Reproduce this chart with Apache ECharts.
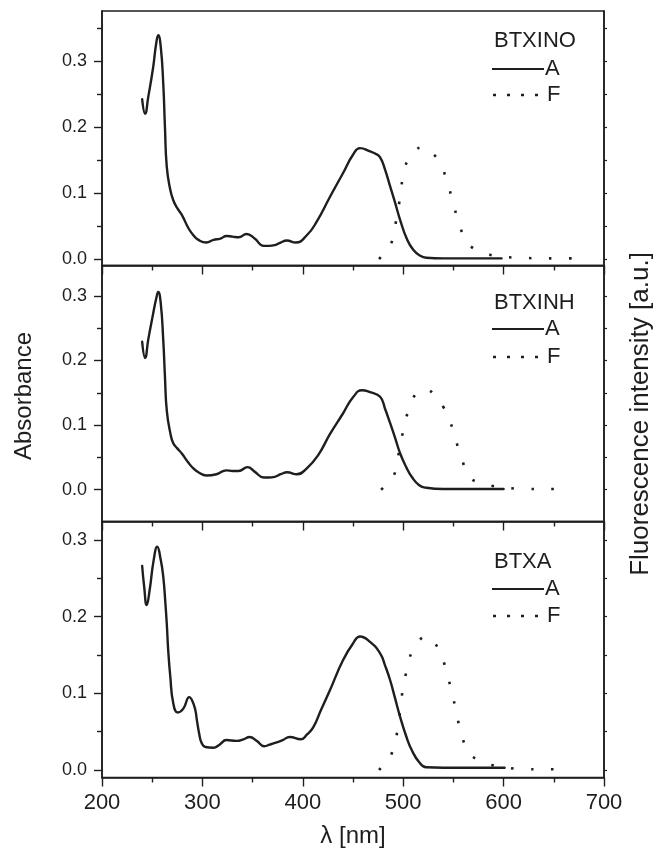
<!DOCTYPE html>
<html>
<head>
<meta charset="utf-8">
<script src="https://cdn.jsdelivr.net/npm/echarts@6/dist/echarts.min.js"></script>
<style>
html,body{margin:0;padding:0;background:#fff;}
#chart{width:659px;height:859px;}
</style>
</head>
<body>
<div id="chart"></div>
<script>
// ---- data ([wavelength nm, value]) ----
const panelNames = ['BTXINO', 'BTXINH', 'BTXA'];
const xTicks = [200, 300, 400, 500, 600, 700];
const yMajorTicks = [0, 0.1, 0.2, 0.3];
const yMinorTicks = [0.05, 0.15, 0.25, 0.35];

const absBTXINO = [[240,0.242],[243,0.220],[246,0.245],[251,0.291],[254,0.327],[256,0.339],[258.5,0.322],[261,0.266],[262.7,0.20],[264.5,0.14],[268,0.105],[271,0.089],[275,0.077],[279.5,0.067],[286,0.047],[291,0.036],[296,0.029],[304,0.025],[311,0.029],[318,0.031],[324,0.035],[330,0.034],[336,0.033],[344,0.038],[352,0.031],[361,0.020],[366,0.020],[372,0.021],[378,0.025],[384,0.028],[393,0.025],[404,0.036],[414,0.057],[427,0.094],[440,0.130],[450,0.158],[457,0.168],[467,0.163],[472,0.160],[477,0.154],[482,0.135],[487,0.110],[492,0.085],[497,0.059],[503.5,0.031],[510,0.014],[517,0.005],[523,0.002],[540,0.001],[560,0.001],[580,0.001],[598,0.001]];
const fluBTXINO = [[476,0.0],[478.6,0.0045],[485,0.016],[490,0.033],[493.5,0.064],[497,0.094],[499.5,0.122],[505,0.152],[512,0.165],[520,0.169],[528,0.162],[536,0.146],[544,0.117],[549,0.088],[555,0.058],[562,0.029],[570,0.016],[579,0.010],[598,0.0035],[618,0.002],[637,0.001],[656,0.001],[676,0.001]];

const absBTXINH = [[240,0.229],[243,0.204],[246,0.232],[251,0.273],[254,0.296],[256,0.306],[258.5,0.289],[261,0.232],[262.7,0.175],[264.5,0.123],[268,0.088],[271,0.072],[275,0.064],[279.5,0.056],[286,0.042],[291,0.033],[296,0.027],[304,0.022],[314,0.024],[324,0.030],[330,0.029],[336,0.029],[345,0.035],[352,0.028],[361,0.019],[366,0.019],[372,0.020],[378,0.024],[384.5,0.027],[394,0.024],[404,0.033],[415.5,0.054],[427,0.086],[440,0.118],[450,0.143],[459,0.154],[467,0.151],[477,0.144],[482,0.125],[487,0.103],[492,0.080],[497,0.056],[503,0.035],[508.5,0.020],[516,0.007],[523,0.003],[540,0.001],[560,0.001],[580,0.001],[600,0.001]];
const fluBTXINH = [[478,0.0],[480,0.003],[487,0.014],[493,0.032],[496,0.061],[500,0.091],[505,0.121],[515,0.152],[522,0.155],[533,0.143],[540,0.128],[545,0.113],[551.5,0.082],[557.5,0.051],[566.5,0.020],[575,0.011],[585,0.007],[605,0.0026],[625,0.001],[644,0.001],[663,0.001]];

const absBTXA = [[240,0.266],[242,0.239],[244.5,0.215],[247.5,0.235],[251.5,0.274],[255,0.291],[258.5,0.274],[261,0.252],[263,0.22],[264.5,0.191],[266,0.155],[268,0.122],[271,0.087],[275.5,0.075],[281,0.080],[287,0.095],[290,0.090],[293,0.078],[294.5,0.065],[297,0.046],[299,0.036],[303,0.030],[311,0.029],[317,0.033],[324,0.039],[334,0.038],[341,0.040],[347,0.043],[354,0.038],[361.5,0.031],[367,0.033],[374,0.036],[380,0.039],[387,0.043],[398,0.040],[404,0.046],[410.5,0.056],[418,0.078],[427,0.104],[440,0.143],[450,0.165],[457,0.174],[467,0.167],[477,0.152],[482,0.136],[487,0.117],[492,0.093],[497,0.069],[503,0.044],[508.5,0.026],[516,0.010],[523,0.0035],[540,0.003],[560,0.003],[580,0.003],[601,0.003]];
const fluBTXA = [[476,0.0],[478.6,0.004],[485,0.012],[490,0.028],[494.5,0.053],[497,0.078],[499.5,0.104],[503.5,0.130],[508.5,0.154],[515,0.168],[524,0.174],[531,0.166],[537.5,0.151],[543.5,0.126],[548.5,0.101],[553,0.075],[557.5,0.049],[565,0.024],[574,0.013],[583.5,0.008],[603.5,0.003],[624,0.001],[643,0.001],[664,0.001]];

const absData = [absBTXINO, absBTXINH, absBTXA];
const fluData = [fluBTXINO, fluBTXINH, fluBTXA];

// ---- layout ----
const INK = '#1e1e1e';
const FONT = 'Liberation Sans';
const panels = [
  {top: 11,    height: 254.5, min: -0.0098, max: 0.3758},
  {top: 265.5, height: 256,   min: -0.0492, max: 0.3471},
  {top: 521.5, height: 256,   min: -0.0098, max: 0.324}
];
const legendY = [[40.5, 69, 95], [303, 329, 357], [562, 589, 616]];

const grid = [], xAxis = [], yAxis = [], series = [], graphic = [];
panels.forEach((p, i) => {
  grid.push({left: 102, top: p.top, width: 502, height: p.height,
    show: true, borderColor: INK, borderWidth: 1.5, backgroundColor: 'transparent'});
  xAxis.push({
    type: 'value', gridIndex: i, min: xTicks[0], max: xTicks[xTicks.length - 1], interval: 100,
    axisLine: {show: true, onZero: false, lineStyle: {color: INK, width: 1.6}},
    axisTick: {show: true, inside: false, length: 9, lineStyle: {color: INK, width: 1.4}},
    minorTick: {show: true, splitNumber: 2, length: 5, lineStyle: {color: INK, width: 1.4}},
    splitLine: {show: false},
    axisLabel: {show: i === 2, fontSize: 22, color: INK, margin: 14, fontFamily: FONT}
  });
  yAxis.push({
    type: 'value', gridIndex: i, position: 'left', min: p.min, max: p.max,
    axisLine: {show: true, onZero: false, lineStyle: {color: INK, width: 1.6}},
    axisTick: {show: true, length: 8, customValues: yMajorTicks, lineStyle: {color: INK, width: 1.4}},
    axisLabel: {show: true, customValues: yMajorTicks, fontSize: 18, color: INK, margin: 15,
      fontFamily: FONT, formatter: v => v.toFixed(1)},
    splitLine: {show: false}
  });
  yAxis.push({
    type: 'value', gridIndex: i, position: 'left', min: p.min, max: p.max,
    axisLine: {show: false},
    axisTick: {show: true, length: 5, customValues: yMinorTicks.filter(v => v < p.max), lineStyle: {color: INK, width: 1.4}},
    axisLabel: {show: false},
    splitLine: {show: false}
  });
  yAxis.push({
    type: 'value', gridIndex: i, position: 'right', min: p.min, max: p.max,
    axisLine: {show: true, onZero: false, lineStyle: {color: INK, width: 1.6}},
    axisTick: {show: true, length: 3, customValues: yMajorTicks.concat(yMinorTicks).filter(v => v < p.max), lineStyle: {color: INK, width: 1.2}},
    axisLabel: {show: false},
    splitLine: {show: false}
  });
  series.push({
    type: 'line', name: 'A', xAxisIndex: i, yAxisIndex: 3 * i, data: absData[i],
    showSymbol: false, smooth: 0.5,
    lineStyle: {color: INK, width: 2.4, join: 'round', cap: 'round'}, silent: true, animation: false
  });
  series.push({
    type: 'line', name: 'F', xAxisIndex: i, yAxisIndex: 3 * i, data: fluData[i],
    showSymbol: false, smooth: 0.5,
    lineStyle: {color: INK, width: 2.6, type: [2.6, 17.4], cap: 'butt'}, silent: true, animation: false
  });
  const ly = legendY[i];
  graphic.push({type: 'text', x: 494, y: ly[0], style: {text: panelNames[i], fontSize: 22, fontFamily: FONT, fill: INK, textAlign: 'left', textVerticalAlign: 'middle'}});
  graphic.push({type: 'line', shape: {x1: 492, y1: ly[1], x2: 544, y2: ly[1]}, style: {stroke: INK, lineWidth: 2.2}});
  graphic.push({type: 'text', x: 545, y: ly[1], style: {text: 'A', fontSize: 22, fontFamily: FONT, fill: INK, textAlign: 'left', textVerticalAlign: 'middle'}});
  graphic.push({type: 'line', shape: {x1: 493, y1: ly[2], x2: 540, y2: ly[2]}, style: {stroke: INK, lineWidth: 2.6, lineDash: [3, 11]}});
  graphic.push({type: 'text', x: 547, y: ly[2], style: {text: 'F', fontSize: 22, fontFamily: FONT, fill: INK, textAlign: 'left', textVerticalAlign: 'middle'}});
});

graphic.push({type: 'text', x: 24, y: 396, rotation: Math.PI / 2,
  style: {text: 'Absorbance', fontSize: 24, fontFamily: FONT, fill: INK, textAlign: 'center', textVerticalAlign: 'middle'}});
graphic.push({type: 'text', x: 641, y: 414, rotation: Math.PI / 2,
  style: {text: 'Fluorescence intensity [a.u.]', fontSize: 26, fontFamily: FONT, fill: INK, textAlign: 'center', textVerticalAlign: 'middle'}});
graphic.push({type: 'text', x: 353, y: 836,
  style: {text: 'λ [nm]', fontSize: 24, fontFamily: FONT, fill: INK, textAlign: 'center', textVerticalAlign: 'middle'}});

const chart = echarts.init(document.getElementById('chart'), null, {renderer: 'canvas'});
chart.setOption({
  animation: false,
  backgroundColor: '#ffffff',
  textStyle: {fontFamily: FONT},
  grid, xAxis, yAxis, series, graphic
});
</script>
</body>
</html>
